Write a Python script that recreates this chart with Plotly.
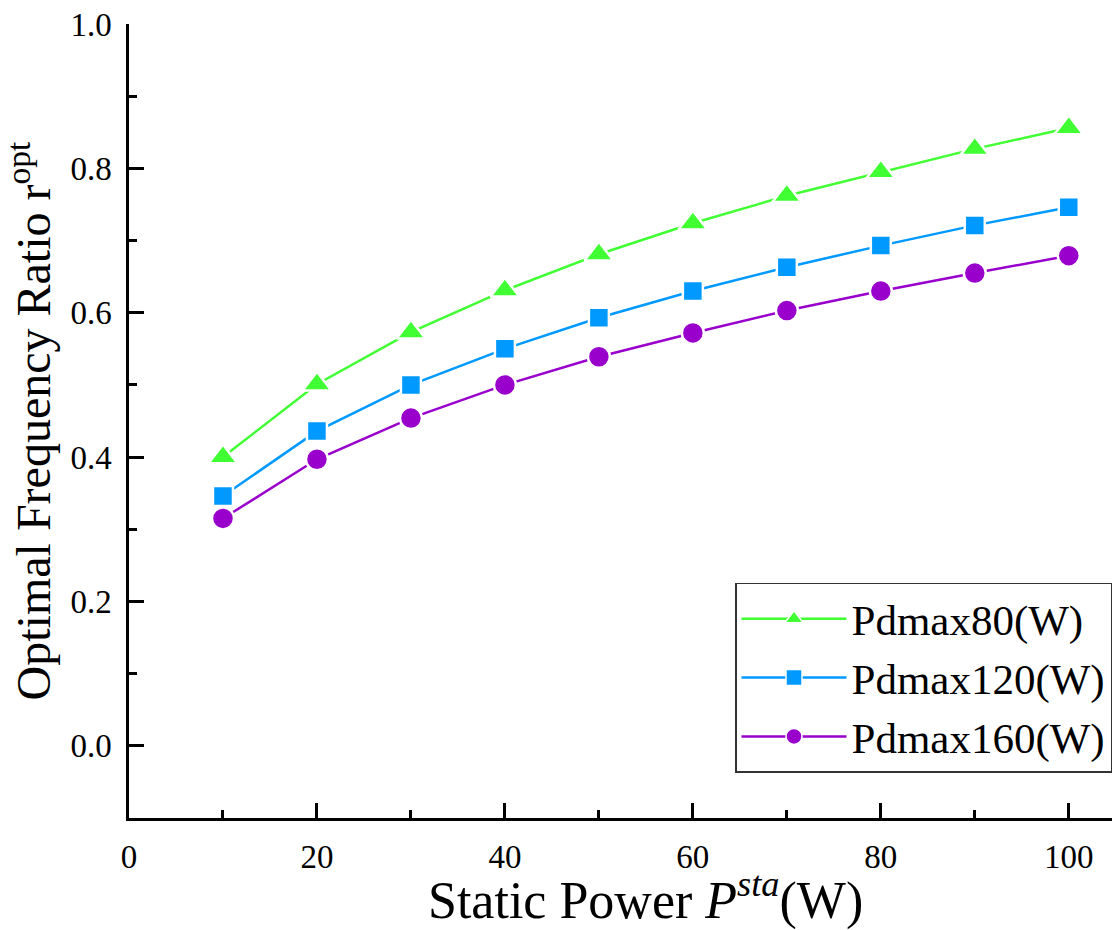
import plotly.graph_objects as go

# Static power (W)
static_power = [10, 20, 30, 40, 50, 60, 70, 80, 90, 100]

# Optimal frequency ratio for each maximum dynamic power
r_pd80 = [0.400, 0.501, 0.573, 0.631, 0.681, 0.724, 0.762, 0.795, 0.827, 0.856]
r_pd120 = [0.346, 0.436, 0.500, 0.550, 0.593, 0.630, 0.663, 0.693, 0.721, 0.746]
r_pd160 = [0.315, 0.397, 0.454, 0.500, 0.539, 0.572, 0.603, 0.630, 0.655, 0.679]

series_names = ["Pdmax80(W)", "Pdmax120(W)", "Pdmax160(W)"]
series_colors = ["#40FF33", "#0099FF", "#9900CC"]
series_symbols = ["triangle-up", "square", "circle"]
series_sizes = [25, 20, 22]

FONT = "Liberation Serif, Times New Roman, serif"

fig = go.Figure()
for name, ys, color, sym, sz in zip(series_names, [r_pd80, r_pd120, r_pd160],
                                    series_colors, series_symbols, series_sizes):
    # data curve (white marker outline leaves a small gap in the line)
    fig.add_trace(go.Scatter(
        x=static_power, y=ys, name=name, mode="lines+markers", showlegend=False,
        line=dict(color=color, width=2.5),
        marker=dict(symbol=sym, size=sz, color=color,
                    line=dict(color="white", width=2.5)),
    ))
    # legend key
    fig.add_trace(go.Scatter(
        x=[None], y=[None], name=name, mode="lines+markers",
        line=dict(color=color, width=2.5),
        marker=dict(symbol=sym, size=16, color=color,
                    line=dict(color="white", width=1.5)),
    ))

axis_common = dict(
    showline=True, linecolor="black", linewidth=2.5, mirror=False,
    ticks="inside", ticklen=15, tickwidth=2.5, tickcolor="black",
    showgrid=False, zeroline=False,
    tickfont=dict(family=FONT, size=33, color="black"),
)

fig.update_xaxes(
    range=[0, 104.6], tickmode="array", tickvals=[0, 20, 40, 60, 80, 100],
    minor=dict(tickvals=[10, 30, 50, 70, 90], ticks="inside", ticklen=8,
               tickwidth=2.5, tickcolor="black"),
    ticklabelstandoff=8,
    **axis_common,
)
fig.update_yaxes(
    range=[-0.1, 1.0], tickmode="array", tickvals=[0, 0.2, 0.4, 0.6, 0.8, 1.0],
    ticktext=["0.0", "0.2", "0.4", "0.6", "0.8", "1.0"],
    minor=dict(tickvals=[-0.1, 0.1, 0.3, 0.5, 0.7, 0.9], ticks="inside", ticklen=8,
               tickwidth=2.5, tickcolor="black"),
    title=dict(text="Optimal Frequency Ratio r<sup>opt</sup>",
               font=dict(family=FONT, size=48, color="black"), standoff=6),
    ticklabelstandoff=8,
    **axis_common,
)

# x-axis title, set slightly right of the axis centre
fig.add_annotation(
    text="Static Power <i>P<sup>sta</sup></i>(W)",
    xref="paper", yref="paper", x=0.525, y=-0.099,
    xanchor="center", yanchor="middle", showarrow=False,
    font=dict(family=FONT, size=52, color="black"),
)

fig.update_layout(
    width=1114, height=930,
    margin=dict(l=129, r=2, t=24, b=112),
    paper_bgcolor="white", plot_bgcolor="white",
    showlegend=True,
    legend=dict(
        x=1.0, xanchor="right", y=0.057, yanchor="bottom",
        bordercolor="#333333", borderwidth=1.5, bgcolor="white",
        font=dict(family=FONT, size=43, color="black"),
        itemwidth=105, tracegroupgap=0,
    ),
)

fig.write_html("out.html")
